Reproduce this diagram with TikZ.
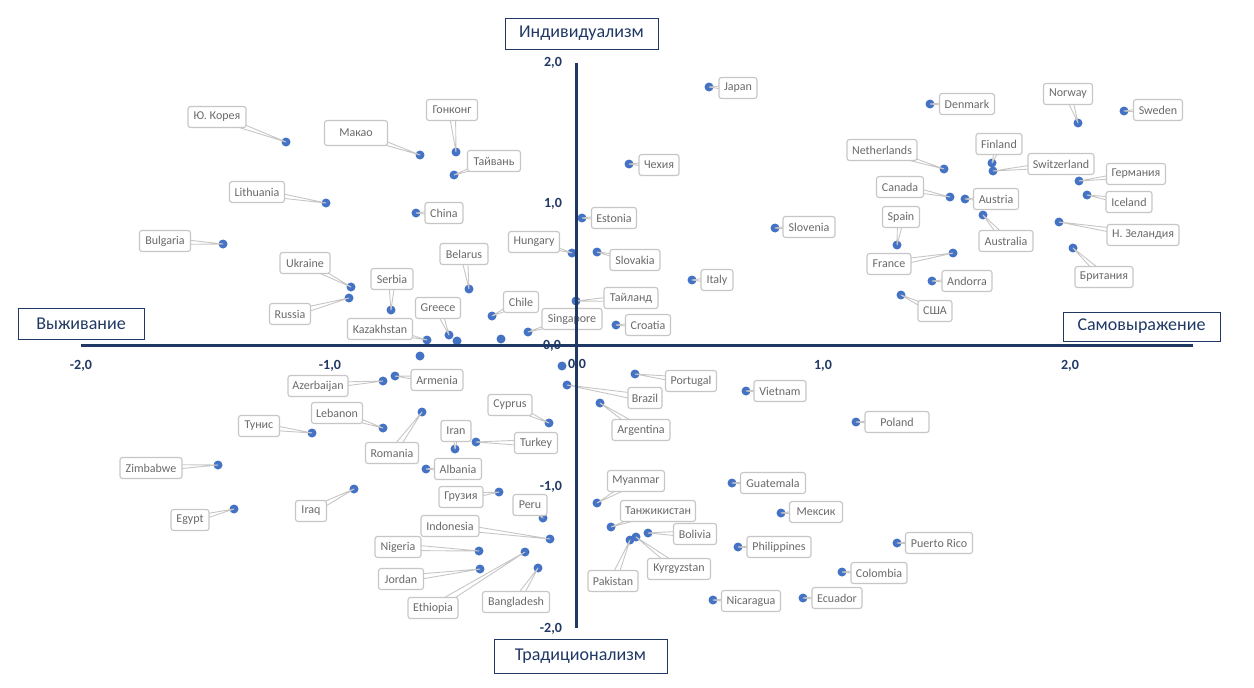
\documentclass[tikz,border=0pt]{standalone}
\usepackage{fontspec}
\newfontfamily\chartfont{Carlito}
\usetikzlibrary{calc}
\definecolor{dotblue}{HTML}{4472C4}
\definecolor{boxgray}{HTML}{C8C6C5}
\definecolor{labgray}{HTML}{6A6A6A}
\definecolor{axisblue}{HTML}{203864}
\pgfdeclarelayer{dots}
\pgfdeclarelayer{leads}
\pgfdeclarelayer{axes}
\pgfsetlayers{dots,leads,main,axes}
\tikzstyle{country} = [rectangle, rounded corners=2.5pt, draw=boxgray, line width=1.1pt, fill=white, text=labgray, font=\chartfont\fontsize{12}{12}\selectfont, minimum height=21pt, inner xsep=3pt, inner ysep=2pt]
\tikzstyle{dot} = [circle, fill=dotblue, inner sep=0pt, minimum size=9pt]
\tikzstyle{lead} = [draw=boxgray, fill=white, line width=0.9pt, line join=round]
\tikzstyle{pole} = [rectangle, draw=axisblue, line width=1pt, fill=white, text=axisblue, font=\chartfont\fontsize{18}{18}\selectfont, minimum height=31pt]
\tikzstyle{ticklabel} = [text=axisblue, font=\chartfont\bfseries\fontsize{14}{14}\selectfont]
\tikzstyle{axisline} = [axisblue, line width=3pt]
\newcommand{\callto}[2]{\filldraw[lead] ($(#1.center)!3.5pt!90:(#2.center)$) -- (#2.center) -- ($(#1.center)!3.5pt!-90:(#2.center)$) -- cycle;}

\begin{document}
\begin{tikzpicture}[x=1pt, y=-1pt]
\useasboundingbox (0,0) rectangle (1254,688);

% data points
\begin{pgfonlayer}{dots}
\node (korea) [dot] at (286,142) {};
\node (macao) [dot] at (420,155) {};
\node (lithuania) [dot] at (326,203) {};
\node (china) [dot] at (416,213) {};
\node (hongkong) [dot] at (456,152) {};
\node (taiwan) [dot] at (454,175) {};
\node (japan) [dot] at (709,87) {};
\node (czech) [dot] at (629,164) {};
\node (estonia) [dot] at (582,218) {};
\node (slovenia) [dot] at (775,228) {};
\node (denmark) [dot] at (930,104) {};
\node (norway) [dot] at (1078,123) {};
\node (sweden) [dot] at (1124,111) {};
\node (netherlands) [dot] at (944,169) {};
\node (finland) [dot] at (992,163) {};
\node (switzerland) [dot] at (993,171) {};
\node (germany) [dot] at (1079,181) {};
\node (canada) [dot] at (950,197) {};
\node (austria) [dot] at (965,199) {};
\node (iceland) [dot] at (1087,195) {};
\node (australia) [dot] at (983,215) {};
\node (spain) [dot] at (897,245) {};
\node (newzealand) [dot] at (1059,222) {};
\node (france) [dot] at (953,253) {};
\node (andorra) [dot] at (932,281) {};
\node (usa) [dot] at (901,295) {};
\node (britain) [dot] at (1073,248) {};
\node (poland) [dot] at (856,422) {};
\node (bulgaria) [dot] at (223,244) {};
\node (ukraine) [dot] at (351,287) {};
\node (russia) [dot] at (349,298) {};
\node (serbia) [dot] at (391,310) {};
\node (kazakhstan) [dot] at (427,340) {};
\node (greece) [dot] at (449,335) {};
\node (belarus) [dot] at (469,289) {};
\node (chile) [dot] at (492,316) {};
\node (singapore) [dot] at (528,332) {};
\node (hungary) [dot] at (572,253) {};
\node (slovakia) [dot] at (597,252) {};
\node (italy) [dot] at (692,280) {};
\node (thailand) [dot] at (576,301) {};
\node (croatia) [dot] at (616,325) {};
\node (armenia) [dot] at (395,376) {};
\node (azerbaijan) [dot] at (383,381) {};
\node (lebanon) [dot] at (383,428) {};
\node (tunisia) [dot] at (312,433) {};
\node (romania) [dot] at (422,412) {};
\node (cyprus) [dot] at (549,423) {};
\node (turkey) [dot] at (476,442) {};
\node (iran) [dot] at (455,449) {};
\node (portugal) [dot] at (635,374) {};
\node (brazil) [dot] at (567,385) {};
\node (argentina) [dot] at (600,403) {};
\node (vietnam) [dot] at (746,391) {};
\node (zimbabwe) [dot] at (218,465) {};
\node (egypt) [dot] at (234,509) {};
\node (iraq) [dot] at (354,489) {};
\node (nigeria) [dot] at (479,551) {};
\node (jordan) [dot] at (480,569) {};
\node (albania) [dot] at (426,469) {};
\node (georgia) [dot] at (499,492) {};
\node (peru) [dot] at (543,518) {};
\node (indonesia) [dot] at (550,539) {};
\node (ethiopia) [dot] at (525,552) {};
\node (bangladesh) [dot] at (538,568) {};
\node (myanmar) [dot] at (597,503) {};
\node (tajikistan) [dot] at (611,527) {};
\node (bolivia) [dot] at (648,533) {};
\node (pakistan) [dot] at (630,540) {};
\node (kyrgyzstan) [dot] at (636,537) {};
\node (guatemala) [dot] at (732,483) {};
\node (mexico) [dot] at (781,513) {};
\node (philippines) [dot] at (738,547) {};
\node (nicaragua) [dot] at (713,600) {};
\node (ecuador) [dot] at (803,598) {};
\node (colombia) [dot] at (842,572) {};
\node (puertorico) [dot] at (897,543) {};
\node (extra1) [dot] at (420,356) {};
\node (extra2) [dot] at (457,341) {};
\node (extra3) [dot] at (501,339) {};
\node (extra4) [dot] at (562,366) {};
\end{pgfonlayer}

% data labels
\node (koreaL) [country, minimum width=58] at (217,117) {Ю. Корея};
\node (macaoL) [country, minimum width=63, minimum height=25] at (356,133) {Макао};
\node (lithuaniaL) [country, minimum width=55] at (257,192) {Lithuania};
\node (chinaL) [country, minimum width=38] at (444,213) {China};
\node (hongkongL) [country, minimum width=51] at (452,110) {Гонконг};
\node (taiwanL) [country, minimum width=53] at (494,161) {Тайвань};
\node (japanL) [country, minimum width=38] at (738,88) {Japan};
\node (czechL) [country, minimum width=40] at (659,165) {Чехия};
\node (estoniaL) [country, minimum width=45] at (614,218) {Estonia};
\node (sloveniaL) [country, minimum width=52] at (809,227) {Slovenia};
\node (denmarkL) [country, minimum width=55] at (967,104) {Denmark};
\node (norwayL) [country, minimum width=49] at (1068,94) {Norway};
\node (swedenL) [country, minimum width=49] at (1158,110) {Sweden};
\node (netherlandsL) [country, minimum width=70] at (882,150) {Netherlands};
\node (finlandL) [country, minimum width=46] at (999,144) {Finland};
\node (switzerlandL) [country, minimum width=66] at (1061,164) {Switzerland};
\node (germanyL) [country, minimum width=59] at (1136,174) {Германия};
\node (canadaL) [country, minimum width=47] at (900,187) {Canada};
\node (austriaL) [country, minimum width=45] at (996,199) {Austria};
\node (icelandL) [country, minimum width=46] at (1129,202) {Iceland};
\node (australiaL) [country, minimum width=54] at (1006,241) {Australia};
\node (spainL) [country, minimum width=37] at (901,217) {Spain};
\node (newzealandL) [country, minimum width=72] at (1143,235) {Н. Зеландия};
\node (franceL) [country, minimum width=44] at (889,264) {France};
\node (andorraL) [country, minimum width=50] at (967,281) {Andorra};
\node (usaL) [country, minimum width=34] at (935,311) {США};
\node (britainL) [country, minimum width=58] at (1104,277) {Британия};
\node (polandL) [country, minimum width=64] at (897,422) {Poland};
\node (bulgariaL) [country, minimum width=51] at (165,241) {Bulgaria};
\node (ukraineL) [country, minimum width=50] at (305,263) {Ukraine};
\node (russiaL) [country, minimum width=41] at (290,314) {Russia};
\node (serbiaL) [country, minimum width=42] at (392,279) {Serbia};
\node (kazakhstanL) [country, minimum width=65] at (380,329) {Kazakhstan};
\node (greeceL) [country, minimum width=45] at (438,308) {Greece};
\node (belarusL) [country, minimum width=48] at (464,254) {Belarus};
\node (chileL) [country, minimum width=35] at (521,302) {Chile};
\node (singaporeL) [country, minimum width=60] at (572,319) {Singapore};
\node (hungaryL) [country, minimum width=51] at (534,242) {Hungary};
\node (slovakiaL) [country, minimum width=50] at (635,260) {Slovakia};
\node (italyL) [country, minimum width=32] at (717,280) {Italy};
\node (thailandL) [country, minimum width=54] at (631,298) {Тайланд};
\node (croatiaL) [country, minimum width=45] at (648,325) {Croatia};
\node (armeniaL) [country, minimum width=52] at (437,380) {Armenia};
\node (azerbaijanL) [country, minimum width=60] at (318,386) {Azerbaijan};
\node (lebanonL) [country, minimum width=51] at (337,413) {Lebanon};
\node (tunisiaL) [country, minimum width=41] at (259,426) {Тунис};
\node (romaniaL) [country, minimum width=53] at (392,453) {Romania};
\node (cyprusL) [country, minimum width=44] at (510,405) {Cyprus};
\node (turkeyL) [country, minimum width=43] at (536,443) {Turkey};
\node (iranL) [country, minimum width=30] at (456,431) {Iran};
\node (portugalL) [country, minimum width=51] at (691,381) {Portugal};
\node (brazilL) [country, minimum width=34] at (645,398) {Brazil};
\node (argentinaL) [country, minimum width=58] at (641,430) {Argentina};
\node (vietnamL) [country, minimum width=52] at (780,391) {Vietnam};
\node (zimbabweL) [country, minimum width=62] at (151,468) {Zimbabwe};
\node (egyptL) [country, minimum width=38] at (190,520) {Egypt};
\node (iraqL) [country, minimum width=31] at (311,511) {Iraq};
\node (nigeriaL) [country, minimum width=46] at (398,547) {Nigeria};
\node (jordanL) [country, minimum width=45] at (401,579) {Jordan};
\node (albaniaL) [country, minimum width=47] at (458,469) {Albania};
\node (georgiaL) [country, minimum width=44] at (461,497) {Грузия};
\node (peruL) [country, minimum width=34] at (530,505) {Peru};
\node (indonesiaL) [country, minimum width=58] at (450,526) {Indonesia};
\node (ethiopiaL) [country, minimum width=50] at (433,608) {Ethiopia};
\node (bangladeshL) [country, minimum width=67] at (516,602) {Bangladesh};
\node (myanmarL) [country, minimum width=57] at (636,481) {Myanmar};
\node (tajikistanL) [country, minimum width=75] at (658,511) {Танжикистан};
\node (boliviaL) [country, minimum width=43] at (695,534) {Bolivia};
\node (pakistanL) [country, minimum width=50] at (613,581) {Pakistan};
\node (kyrgyzstanL) [country, minimum width=63] at (679,569) {Kyrgyzstan};
\node (guatemalaL) [country, minimum width=65] at (773,483) {Guatemala};
\node (mexicoL) [country, minimum width=53] at (816,512) {Мексик};
\node (philippinesL) [country, minimum width=64] at (779,547) {Philippines};
\node (nicaraguaL) [country, minimum width=59] at (751,601) {Nicaragua};
\node (ecuadorL) [country, minimum width=50] at (837,598) {Ecuador};
\node (colombiaL) [country, minimum width=56] at (879,573) {Colombia};
\node (puertoricoL) [country, minimum width=67] at (939,543) {Puerto Rico};

% callout pointers
\begin{pgfonlayer}{leads}
\callto{koreaL}{korea} \callto{macaoL}{macao} \callto{lithuaniaL}{lithuania}
\callto{chinaL}{china} \callto{hongkongL}{hongkong} \callto{taiwanL}{taiwan}
\callto{japanL}{japan} \callto{czechL}{czech} \callto{estoniaL}{estonia}
\callto{sloveniaL}{slovenia} \callto{denmarkL}{denmark} \callto{norwayL}{norway}
\callto{swedenL}{sweden} \callto{netherlandsL}{netherlands} \callto{finlandL}{finland}
\callto{switzerlandL}{switzerland} \callto{germanyL}{germany} \callto{canadaL}{canada}
\callto{austriaL}{austria} \callto{icelandL}{iceland} \callto{australiaL}{australia}
\callto{spainL}{spain} \callto{newzealandL}{newzealand} \callto{franceL}{france}
\callto{andorraL}{andorra} \callto{usaL}{usa} \callto{britainL}{britain}
\callto{polandL}{poland} \callto{bulgariaL}{bulgaria} \callto{ukraineL}{ukraine}
\callto{russiaL}{russia} \callto{serbiaL}{serbia} \callto{kazakhstanL}{kazakhstan}
\callto{greeceL}{greece} \callto{belarusL}{belarus} \callto{chileL}{chile}
\callto{singaporeL}{singapore} \callto{hungaryL}{hungary} \callto{slovakiaL}{slovakia}
\callto{italyL}{italy} \callto{thailandL}{thailand} \callto{croatiaL}{croatia}
\callto{armeniaL}{armenia} \callto{azerbaijanL}{azerbaijan} \callto{lebanonL}{lebanon}
\callto{tunisiaL}{tunisia} \callto{romaniaL}{romania} \callto{cyprusL}{cyprus}
\callto{turkeyL}{turkey} \callto{iranL}{iran} \callto{portugalL}{portugal}
\callto{brazilL}{brazil} \callto{argentinaL}{argentina} \callto{vietnamL}{vietnam}
\callto{zimbabweL}{zimbabwe} \callto{egyptL}{egypt} \callto{iraqL}{iraq}
\callto{nigeriaL}{nigeria} \callto{jordanL}{jordan} \callto{albaniaL}{albania}
\callto{georgiaL}{georgia} \callto{peruL}{peru} \callto{indonesiaL}{indonesia}
\callto{ethiopiaL}{ethiopia} \callto{bangladeshL}{bangladesh} \callto{myanmarL}{myanmar}
\callto{tajikistanL}{tajikistan} \callto{boliviaL}{bolivia} \callto{pakistanL}{pakistan}
\callto{kyrgyzstanL}{kyrgyzstan} \callto{guatemalaL}{guatemala} \callto{mexicoL}{mexico}
\callto{philippinesL}{philippines} \callto{nicaraguaL}{nicaragua} \callto{ecuadorL}{ecuador}
\callto{colombiaL}{colombia} \callto{puertoricoL}{puertorico}
\end{pgfonlayer}

% axes, poles and scale
\begin{pgfonlayer}{axes}
\coordinate (left) at (81,345);
\coordinate (right) at (1193,345);
\coordinate (top) at (576,63);
\coordinate (bottom) at (576,628);
\draw [axisline] (left) -- (right);
\draw [axisline] (top) -- (bottom);

\node (indiv) [pole, minimum width=153] at (581.5,33.5) {Индивидуализм};
\node (trad) [pole, minimum width=173, minimum height=34] at (580.5,656) {Традиционализм};
\node (surv) [pole, minimum width=126] at (81,323.5) {Выживание};
\node (expr) [pole, minimum width=157, minimum height=29] at (1141.5,326.5) {Самовыражение};

\node (xm2) [ticklabel] at (81,366) {-2,0};
\node (xm1) [ticklabel] at (330,366) {-1,0};
\node (x0) [ticklabel] at (577,365) {0,0};
\node (xp1) [ticklabel] at (823,366) {1,0};
\node (xp2) [ticklabel] at (1070,366) {2,0};
\node (yp2) [ticklabel] at (553,63) {2,0};
\node (yp1) [ticklabel] at (553,204) {1,0};
\node (y0) [ticklabel] at (552,346) {0,0};
\node (ym1) [ticklabel] at (551,487) {-1,0};
\node (ym2) [ticklabel] at (551,629) {-2,0};
\end{pgfonlayer}

\end{tikzpicture}
\end{document}
